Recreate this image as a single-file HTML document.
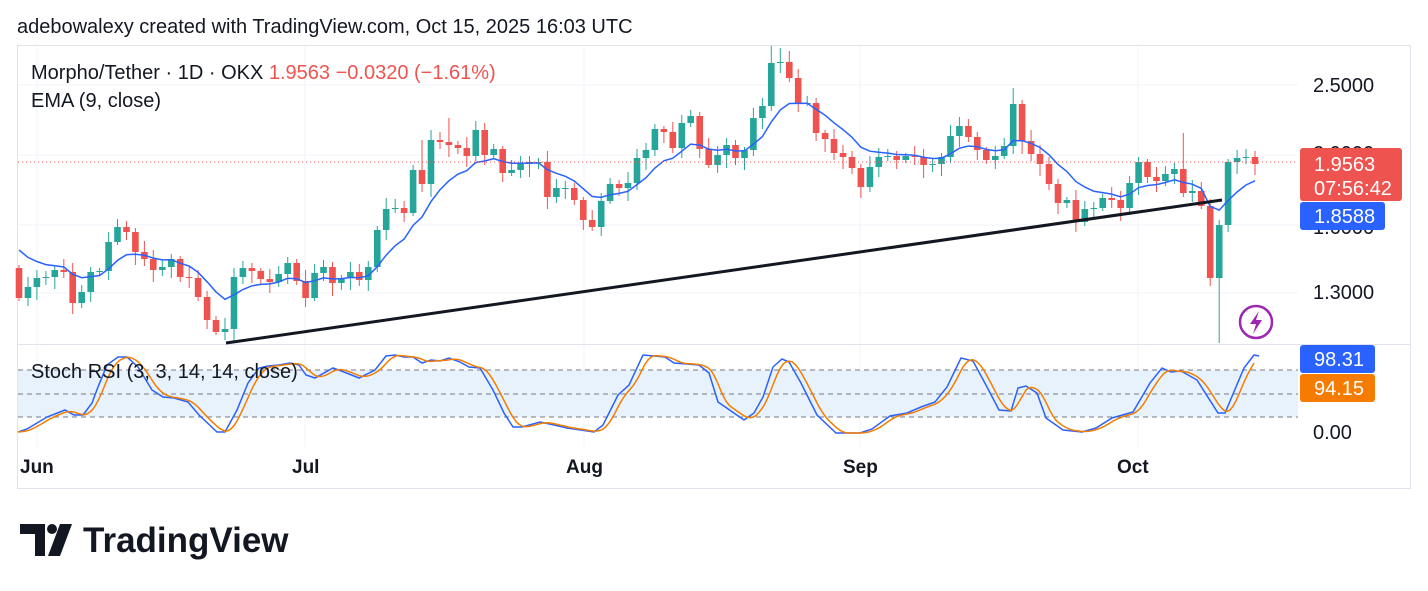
<!DOCTYPE html>
<html><head><meta charset="utf-8"><style>
body{margin:0;background:#fff;width:1428px;height:591px;overflow:hidden;font-family:"Liberation Sans",sans-serif;}
svg{position:absolute;left:0;top:0}
</style></head><body>
<svg id="s" width="1428" height="591" xmlns="http://www.w3.org/2000/svg" font-family="Liberation Sans, sans-serif"></svg>
<script>
const S=document.getElementById('s');let h='';
h+='<rect x="17.5" y="45.5" width="1393" height="443" fill="#fff" stroke="#e0e3eb"/>';
[85,155,225,293].forEach(y=>h+=`<line x1="18" x2="1298" y1="${y}" y2="${y}" stroke="#f0f3fa"/>`);
[37,305,584,860,1138].forEach(x=>h+=`<line x1="${x}" x2="${x}" y1="46" y2="447" stroke="#f0f3fa"/>`);
h+='<line x1="18" x2="1410" y1="344.5" y2="344.5" stroke="#e0e3eb"/>';
h+='<rect x="18" y="370" width="1280" height="47" fill="#e3f0fc" opacity="0.85"/>';
[370,394,417].forEach(y=>h+=`<line x1="18" x2="1298" y1="${y}" y2="${y}" stroke="#787b86" stroke-dasharray="5,4" stroke-width="1"/>`);
const o0=268;
const c=[298,287,278,277,270,272,303,292,272,271,242,227,232,252,259,270,267,259,277,278,297,320,332,329,277,268,271,279,282,274,263,281,298,273,267,283,278,272,280,267,230,209,208,213,170,184,140,142,145,148,156,130,155,149,173,170,164,162,162,197,188,188,200,220,227,201,184,188,183,158,150,129,132,148,123,116,149,165,155,
145,158,150,118,106,63,62,78,103,103,133,139,153,157,168,187,167,157,156,160,156,157,165,164,157,136,126,137,150,160,156,146,104,141,154,164,184,203,200,222,209,208,198,200,208,183,162,177,181,174,169,193,191,206,278,225,162,158,157,164];
const n=c.length,x0=19,dx=(1255-19)/(n-1);
let prev=o0,ema=250,emaPts=[];const k=2/10;
for(let i=0;i<n;i++){
 const x=x0+i*dx,o=i==0?o0:prev,cl=c[i];
 const up=cl<=o,col=up?'#26a69a':'#ef5350';
 let top=Math.min(o,cl),bot=Math.max(o,cl);
 let hi=top-(3+((i*7)%9)),lo=bot+(3+((i*5)%11));
 if(i==134){lo=343;}
 if(i==84)hi=46; if(i==85)hi=48; if(i==111)hi=88; if(i==130)hi=133; if(i==139)hi=143; if(i==136)hi=150;if(i==45)hi=140;if(i==48)hi=118;
 h+=`<line x1="${x.toFixed(1)}" x2="${x.toFixed(1)}" y1="${hi}" y2="${lo}" stroke="${col}" stroke-width="1"/>`;
 h+=`<rect x="${(x-3.3).toFixed(1)}" y="${top}" width="6.6" height="${Math.max(1,bot-top)}" fill="${col}"/>`;
 ema=i==0?ema:ema+k*(cl-ema);emaPts.push(`${x.toFixed(1)},${ema.toFixed(1)}`);
 prev=cl;
}
h+=`<polyline points="${emaPts.join(' ')}" fill="none" stroke="#2962ff" stroke-width="1.5"/>`;
h+='<line x1="18" x2="1298" y1="162" y2="162" stroke="#ef5350" stroke-dasharray="1,3"/>';
h+='<line x1="226" y1="343" x2="1222" y2="200" stroke="#131722" stroke-width="3"/>';
const bp=[[18,432],[27,429],[47,417],[65,410],[74,415],[83,415],[92,403],[98,387],[107,365],[118,357],[127,357],[138,367],[152,390],[163,397],[174,398],[188,402],[199,415],[217,432],[225,432],[237,410],[248,383],[259,368],[268,366],[279,365],[290,363],[299,365],[306,375],[315,378],[333,368],[344,372],[359,378],[375,370],[386,356],[395,355],[404,357],[413,357],[422,363],[431,360],[440,361],[449,358],[460,362],[469,367],[480,368],[493,390],[504,413],[513,427],[522,427],[540,422],[554,425],[567,428],[594,432],[603,425],[618,395],[629,385],[643,355],[654,356],[665,357],[674,363],[699,365],[709,373],[718,402],[744,420],[754,413],[763,397],[773,367],[782,359],[789,362],[801,383],[817,415],[836,433],[860,433],[872,429],[890,416],[907,413],[921,407],[935,402],[947,387],[961,358],[973,361],[987,387],[999,410],[1011,411],[1018,388],[1026,386],[1037,393],[1046,418],[1063,430],[1082,432],[1096,428],[1112,418],[1133,412],[1150,383],[1162,368],[1171,372],[1181,371],[1197,380],[1218,413],[1225,413],[1244,368],[1254,355],[1259,356]];
h+=`<polyline points="${bp.map(p=>p.join(',')).join(' ')}" fill="none" stroke="#2962ff" stroke-width="1.5"/>`;
function interp(x){for(let i=1;i<bp.length;i++){if(x<=bp[i][0]){const a=bp[i-1],b=bp[i];return a[1]+(b[1]-a[1])*(x-a[0])/(b[0]-a[0]);}}return bp[bp.length-1][1];}
let op=[];for(let x=18;x<=1256;x+=3){let v=0,m=0;for(let d=0;d<=12;d+=2){v+=interp(Math.max(18,x-d));m++;}op.push(`${x},${(v/m).toFixed(1)}`);}
h+=`<polyline points="${op.join(' ')}" fill="none" stroke="#f57c00" stroke-width="1.5"/>`;
h+='<circle cx="1256" cy="322" r="16" fill="#fff" stroke="#9c27b0" stroke-width="2.5"/><path d="M1259 311 L1250 324 L1256 324 L1253 334 L1262 320 L1256 320 Z" fill="#9c27b0"/>';
const T=(x,y,t,s,c,w,a)=>h+=`<text x="${x}" y="${y}" font-size="${s}" fill="${c}" font-weight="${w||'normal'}" text-anchor="${a||'start'}">${t}</text>`;
T(1313,92,'2.5000',20,'#131722');T(1313,160,'2.0000',20,'#131722');T(1313,234,'1.6000',20,'#131722');T(1313,299,'1.3000',20,'#131722');T(1313,439,'0.00',20,'#131722');
h+='<rect x="1300" y="148" width="102" height="53" rx="3" fill="#ef5350"/>';T(1314,171,'1.9563',20,'#fff');T(1314,195,'07:56:42',20,'#fff');
h+='<rect x="1300" y="202" width="85" height="28" rx="3" fill="#2962ff"/>';T(1314,223,'1.8588',20,'#fff');
h+='<rect x="1300" y="345" width="75" height="28" rx="3" fill="#2962ff"/>';T(1314,366,'98.31',20,'#fff');
h+='<rect x="1300" y="374" width="75" height="28" rx="3" fill="#f57c00"/>';T(1314,395,'94.15',20,'#fff');
T(20,473,'Jun',19,'#131722','bold');T(292,473,'Jul',19,'#131722','bold');T(566,473,'Aug',19,'#131722','bold');T(843,473,'Sep',19,'#131722','bold');T(1117,473,'Oct',19,'#131722','bold');
T(17,33,'adebowalexy created with TradingView.com, Oct 15, 2025 16:03 UTC',20,'#131722');
h+='<text x="31" y="79" font-size="20" fill="#131722">Morpho/Tether · 1D · OKX <tspan fill="#ef5350"> 1.9563  −0.0320 (−1.61%)</tspan></text>';
T(31,107,'EMA (9, close)',20,'#131722');
T(31,378,'Stoch RSI (3, 3, 14, 14, close)',20,'#131722');
h+='<path d="M20 524 H45 V556 H35 V534 H20 Z" fill="#131722"/><circle cx="52" cy="529" r="5" fill="#131722"/><path d="M60 524 H72 L60 556 H48 Z" fill="#131722"/>';
T(83,552,'TradingView',35,'#131722','bold');
S.innerHTML=h;
</script>
</body></html>
